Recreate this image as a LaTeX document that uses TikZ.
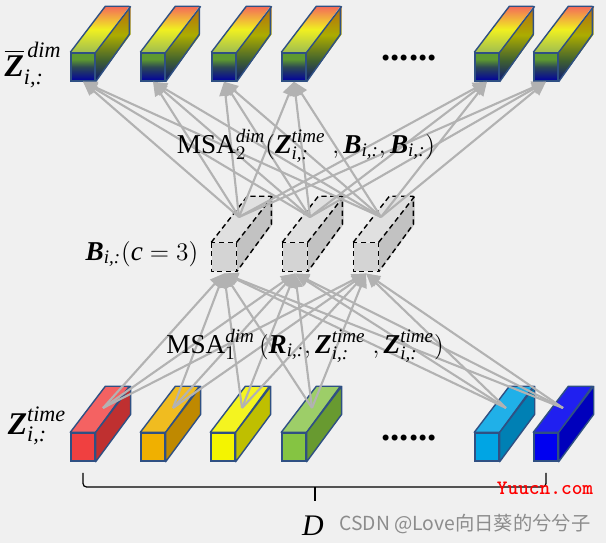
\documentclass[tikz,border=0pt]{standalone}
\usepackage{amsmath}
\usepackage{amssymb}
\usepackage{fontspec}
\usetikzlibrary{arrows.meta,positioning}
\setmainfont{Liberation Serif}
\newfontfamily\cjkwater{Noto Sans CJK SC}
\newcommand{\bvar}[1]{\textbf{\textit{#1}}}
\newcommand{\ivar}[1]{\textit{#1}}
\definecolor{bgpage}{HTML}{F0F0F0}
\definecolor{edgeblue}{HTML}{2F5083}
\definecolor{linegray}{HTML}{B2B2B2}
\definecolor{sidea}{HTML}{B86A10}
\definecolor{sideb}{HTML}{ACAC00}
\definecolor{sidec}{HTML}{3F6030}
\definecolor{sided}{HTML}{0A1478}
\definecolor{topa}{HTML}{F46A5A}
\definecolor{topb}{HTML}{F0F020}
\definecolor{topc}{HTML}{A0BE50}
\definecolor{fronta}{HTML}{5E9A30}
\definecolor{frontb}{HTML}{0000A0}
\pgfdeclareverticalshading{sidefade}{100bp}{
    color(0bp)=(sided); color(25bp)=(sided); color(39bp)=(sidec);
    color(56bp)=(sideb); color(75bp)=(sidea); color(100bp)=(sidea)}
\pgfdeclareverticalshading{frontfade}{100bp}{
    color(0bp)=(frontb); color(25bp)=(frontb);
    color(50bp)=(fronta!55!frontb!85!black); color(64bp)=(fronta); color(100bp)=(fronta)}
\tikzset
{
    frontbar/.style = {rectangle, draw=edgeblue, line width=0.8pt, minimum width=0.48cm, minimum height=0.56cm, inner sep=0pt},
    sidebar/.style = {draw=edgeblue, line width=0.8pt, line join=round},
    graybar/.style = {draw=black, line width=0.8pt, dash pattern=on 3pt off 2pt, line join=round},
    link/.style = {draw=linegray, line width=1.2pt, -{Triangle[length=8pt,width=7pt]}},
    formula/.style = {inner sep=0pt, font=\fontsize{15.5}{18}\selectfont},
    biglabel/.style = {inner sep=0pt, font=\fontsize{18}{20}\selectfont},
    dotrow/.style = {inner sep=0pt, font=\fontsize{21}{23}\selectfont\bfseries}
}
\begin{document}
\begin{tikzpicture}[x=0.02cm,y=-0.02cm]
	\fill[bgpage] (0,0) rectangle (606,543);
	\useasboundingbox (0,0) rectangle (606,543);
	% bottom row
	\foreach \name/\px/\tx/\cfront/\ctop/\cside in {
		b1/83/103/F04040/F46262/BF3030,
		b2/153/173/F0B000/F0BC20/BF8900,
		b3/223/242/F4F400/F4F420/BFBF00,
		b4/294/312/85C442/9DCE68/689A30,
		b5/487/506/00A5E4/20B0E8/0080B4,
		b6/546/563/0000F0/2020F0/0000BC}{
		\definecolor{cf}{HTML}{\cfront}
		\definecolor{ct}{HTML}{\ctop}
		\definecolor{cs}{HTML}{\cside}
		\node[frontbar, fill=cf] (\name) at (\px,447) {};
		\filldraw[sidebar, fill=ct] (\name.north west) -- ++(35,-46) -- ++(24,0) -- (\name.north east) -- cycle;
		\filldraw[sidebar, fill=cs] (\name.north east) -- ++(35,-46) -- ++(0,28) -- (\name.south east) -- cycle;
		\coordinate (\name t) at (\tx,408);
	}
	% top row
	\foreach \name/\px in {a1/83,a2/153,a3/224,a4/294,a5/487,a6/546}{
		\node[frontbar, draw=none, shading=frontfade] (\name) at (\px,67) {};
		\shade[top color=topa, bottom color=topc, middle color=topb]
			(\name.north west) -- ++(35,-46) -- ++(24,0) -- (\name.north east) -- cycle;
		\shade[shading=sidefade] (\name.north east) -- ++(35,-46) -- ++(0,28) -- (\name.south east) -- cycle;
		\draw[sidebar] (\name.north west) -- ++(35,-46) -- ++(24,0) -- ++(0,28) -- (\name.south east);
		\draw[sidebar] (\name.north east) -- ++(35,-46);
		\node[frontbar] at (\px,67) {};
	}
	% middle row
	\foreach \name/\px in {m1/224,m2/295,m3/366}{
		\node[frontbar, draw=none, fill=black!17] (\name) at (\px,257) {};
		\fill[black!12] (\name.north west) -- ++(36,-46) -- ++(24,0) -- (\name.north east) -- cycle;
		\fill[black!24] (\name.north east) -- ++(36,-46) -- ++(0,28) -- (\name.south east) -- cycle;
		\draw[graybar] (\name.north west) rectangle (\name.south east);
		\draw[graybar] (\name.north west) -- ++(36,-46) -- ++(24,0) -- ++(0,28) -- (\name.south east);
		\draw[graybar] (\name.north east) -- ++(36,-46);
		\coordinate (\name t) at (\px+15,217);
	}
	% links
	\foreach \low in {b1,b2,b3,b4,b5,b6}
		\foreach \mid in {m1,m2,m3}
			\draw[link] (\low t) -- ([yshift=-1pt]\mid.south);
	\foreach \mid in {m1,m2,m3}
		\foreach \up in {a1,a2,a3,a4,a5,a6}
			\draw[link] (\mid t) -- (\up.south);
	% labels
	\node[biglabel] (zbar) at (33,65) {$\overline{\bvar{Z}}_{\ivar{i,:}}^{\,\ivar{dim}}$};
	\node[biglabel] (ztime) at (37,426) {$\bvar{Z}_{\ivar{i,:}}^{\ivar{time}}$};
	\node[formula] (bc) at (142,254) {$\bvar{B}_{\ivar{i,:}}(\ivar{c}=3)$};
	\node[formula] (msa2) at (306,146) {$\text{MSA}_2^{\ivar{dim}}(\bvar{Z}_{\ivar{i,:}}^{\ivar{time}}\;,\bvar{B}_{\ivar{i,:}},\bvar{B}_{\ivar{i,:}})$};
	\node[formula] (msa1) at (305,346) {$\text{MSA}_1^{\ivar{dim}}\,(\bvar{R}_{\ivar{i,:}},\bvar{Z}_{\ivar{i,:}}^{\ivar{time}}\;,\bvar{Z}_{\ivar{i,:}}^{\ivar{time}})$};
	\node[dotrow] (dotsa) at (409,58) {......};
	\node[dotrow] (dotsb) at (409,438) {......};
	% brace
	\coordinate (bl) at (83,473);
	\coordinate (blc) at (83,487);
	\coordinate (br) at (546,473);
	\coordinate (brc) at (546,487);
	\coordinate (bm) at (315,501);
	\coordinate (bmc) at (315,487);
	\draw[black, line width=0.7pt, rounded corners=2pt] (bl) -- (blc) -- (brc) -- (br);
	\draw[black, line width=0.7pt] (bm) -- (bmc);
	\node[formula, font=\fontsize{17}{18}\selectfont] (dlabel) at (313,526) {\ivar{D}};
	% marks
	\node[inner sep=0pt, text=red, font=\ttfamily\bfseries\fontsize{11.6}{13}\selectfont] (mark1) at (545,488) {Yuucn.com};
	\node[inner sep=0pt, text=black!45, font=\cjkwater\fontsize{11}{13}\selectfont] (mark2) at (465,524) {CSDN @Love向日葵的兮兮子};
\end{tikzpicture}
\end{document}
